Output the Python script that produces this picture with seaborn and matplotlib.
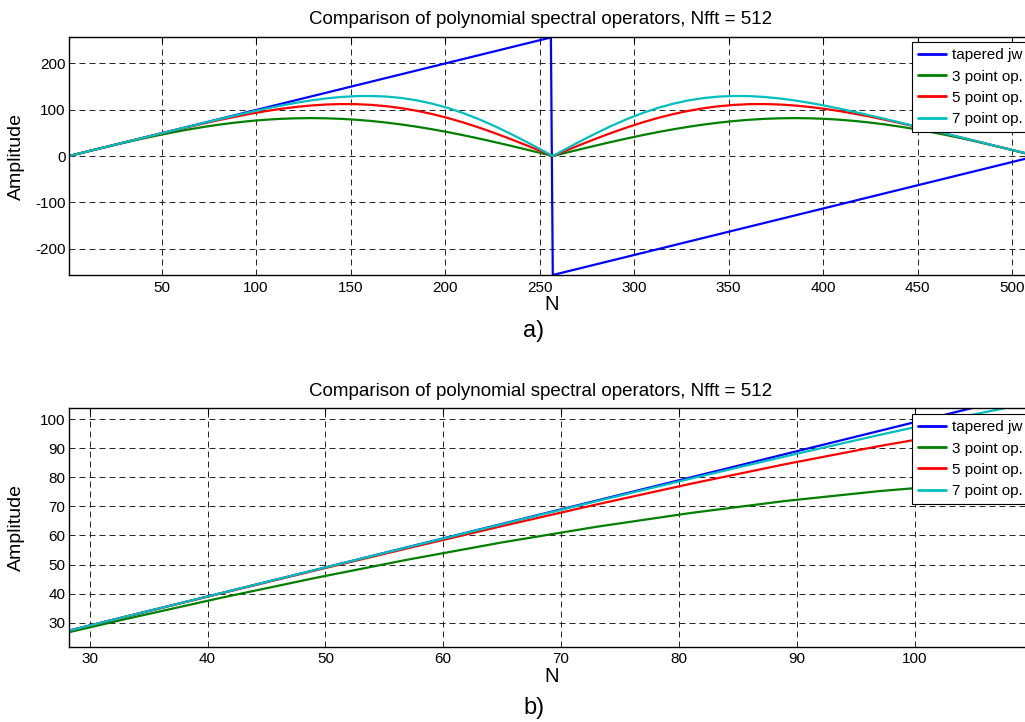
import matplotlib
matplotlib.use("Agg")
import matplotlib.pyplot as plt
import pandas as pd
import seaborn as sns

# sample positions (N) for the operator curves
n_ops = [1, 9, 17, 25, 33, 41, 49, 57, 65, 73, 81, 89, 97, 105, 113, 121,
         129, 137, 145, 153, 161, 169, 177, 185, 193, 201, 209, 217, 225,
         233, 241, 249, 257, 265, 273, 281, 289, 297, 305, 313, 321, 329,
         337, 345, 353, 361, 369, 377, 385, 393, 401, 409, 417, 425, 433,
         441, 449, 457, 465, 473, 481, 489, 497, 505, 512]

op3 = [0, 7.99, 15.90, 23.65, 31.18, 38.41, 45.27, 51.69, 57.62, 62.99,
       67.75, 71.87, 75.28, 77.98, 79.92, 81.09, 81.49, 81.09, 79.92, 77.98,
       75.28, 71.87, 67.75, 62.99, 57.62, 51.69, 45.27, 38.41, 31.18, 23.65,
       15.90, 7.99, 0,
       7.99, 15.90, 23.65, 31.18, 38.41, 45.27, 51.69, 57.62, 62.99, 67.75,
       71.87, 75.28, 77.98, 79.92, 81.09, 81.49, 81.09, 79.92, 77.98, 75.28,
       71.87, 67.75, 62.99, 57.62, 51.69, 45.27, 38.41, 31.18, 23.65, 15.90,
       7.99, 1.00]

op5 = [0, 8.00, 16.00, 23.99, 31.98, 39.92, 47.82, 55.61, 63.24, 70.67,
       77.80, 84.53, 90.78, 96.43, 101.37, 105.48, 108.65, 110.77, 111.76,
       111.52, 109.98, 107.11, 102.89, 97.31, 90.41, 82.25, 72.92, 62.51,
       51.18, 39.08, 26.39, 13.30, 0,
       13.30, 26.39, 39.08, 51.18, 62.51, 72.92, 82.25, 90.41, 97.31, 102.89,
       107.11, 109.98, 111.52, 111.76, 110.77, 108.65, 105.48, 101.37, 96.43,
       90.78, 84.53, 77.80, 70.67, 63.24, 55.61, 47.82, 39.92, 31.98, 23.99,
       16.00, 8.00, 1.00]

op7 = [0, 8.00, 16.00, 24.00, 32.00, 40.00, 47.99, 55.96, 63.90, 71.79,
       79.58, 87.21, 94.61, 101.66, 108.27, 114.27, 119.51, 123.81, 126.98,
       128.83, 129.17, 127.86, 124.75, 119.74, 112.79, 103.91, 93.17, 80.65,
       66.57, 51.16, 34.71, 17.54, 0,
       17.54, 34.71, 51.16, 66.57, 80.65, 93.17, 103.91, 112.79, 119.74,
       124.75, 127.86, 129.17, 128.83, 126.98, 123.81, 119.51, 114.27, 108.27,
       101.66, 94.61, 87.21, 79.58, 71.79, 63.90, 55.96, 47.99, 40.00, 32.00,
       24.00, 16.00, 8.00, 1.00]

# tapered jw is a sawtooth
n_jw = [1, 256, 257, 512]
jw = [0, 255, -256, -1]

series_names = ["tapered jw", "3 point op.", "5 point op.", "7 point op."]
series_colors = ["#0000FF", "#008000", "#FF0000", "#00BFBF"]

title = "Comparison of polynomial spectral operators, Nfft = 512"
top_xticks = [50, 100, 150, 200, 250, 300, 350, 400, 450, 500]
top_yticks = [-200, -100, 0, 100, 200]
bot_xticks = [30, 40, 50, 60, 70, 80, 90, 100]
bot_yticks = [30, 40, 50, 60, 70, 80, 90, 100]

frames = [pd.DataFrame({"N": n_jw, "Amplitude": jw, "series": series_names[0]})]
for name, vals in zip(series_names[1:], [op3, op5, op7]):
    frames.append(pd.DataFrame({"N": n_ops, "Amplitude": vals, "series": name}))
df = pd.concat(frames, ignore_index=True)

sns.set_theme(style="white")
plt.rcParams["font.family"] = ["Liberation Sans", "DejaVu Sans"]
plt.rcParams["lines.scale_dashes"] = False
plt.rcParams["axes.unicode_minus"] = False
plt.rcParams["text.color"] = "black"
plt.rcParams["axes.labelcolor"] = "black"

W, H = 1025, 722
fig = plt.figure(figsize=(W / 100, H / 100), dpi=100, facecolor="w")


def panel(rect, xlim, ylim, xticks, yticks, tag, tag_y, legend_top):
    left, top, right, bottom = rect
    ax_h = bottom - top
    ax_w = right - left
    ax = fig.add_axes([left / W, 1 - bottom / H, ax_w / W, ax_h / H])
    sns.lineplot(
        data=df,
        x="N",
        y="Amplitude",
        hue="series",
        hue_order=series_names,
        palette=series_colors,
        estimator=None,
        linewidth=1.6,
        legend=False,
        ax=ax,
    )
    ax.set_xlim(*xlim)
    ax.set_ylim(*ylim)
    ax.set_xticks(xticks)
    ax.set_yticks(yticks)
    ax.grid(True, color="#222222", linestyle=(0, (4.3, 2.9)), linewidth=0.7)
    ax.set_axisbelow(True)
    for sp in ax.spines.values():
        sp.set_color("black")
        sp.set_linewidth(1.0)
    ax.tick_params(axis="both", which="major", direction="in", length=4,
                   width=0.8, labelsize=11, top=True, right=True,
                   colors="black")
    ax.tick_params(axis="x", pad=4)
    ax.tick_params(axis="y", pad=2.5)
    ax.set_title(title, fontsize=13.5, x=0.488, pad=9, color="black")
    ax.set_xlabel("N", fontsize=14.5, va="center")
    ax.xaxis.set_label_coords(0.5, -30 / ax_h)
    ax.set_ylabel("Amplitude", fontsize=14, va="center")
    ax.yaxis.set_label_coords(-52.5 / ax_w, 0.5)
    leg = ax.legend(
        ax.get_lines()[:4],
        series_names,
        loc="upper left",
        bbox_to_anchor=(911.5 / W, 1 - legend_top / H),
        bbox_transform=fig.transFigure,
        borderaxespad=0,
        fontsize=11,
        frameon=True,
        fancybox=False,
        framealpha=1,
        edgecolor="black",
        handlelength=1.85,
        handletextpad=0.38,
        labelspacing=0.47,
        borderpad=0.42,
    )
    leg.get_frame().set_linewidth(0.8)
    for line in leg.get_lines():
        line.set_linewidth(2.0)
    for t in leg.get_texts():
        t.set_color("black")
    fig.text(534 / W, 1 - tag_y / H, tag, fontsize=17, ha="center", va="center")
    return ax


panel((69, 37, 1034.7, 275), (1, 512), (-256, 256), top_xticks, top_yticks,
      "a)", 331, 42)
panel((69, 408.3, 1034.7, 646.7), (28.24, 110.2), (21.7, 103.8), bot_xticks,
      bot_yticks, "b)", 708, 414)

fig.savefig("out.png", dpi=100, facecolor="w")
